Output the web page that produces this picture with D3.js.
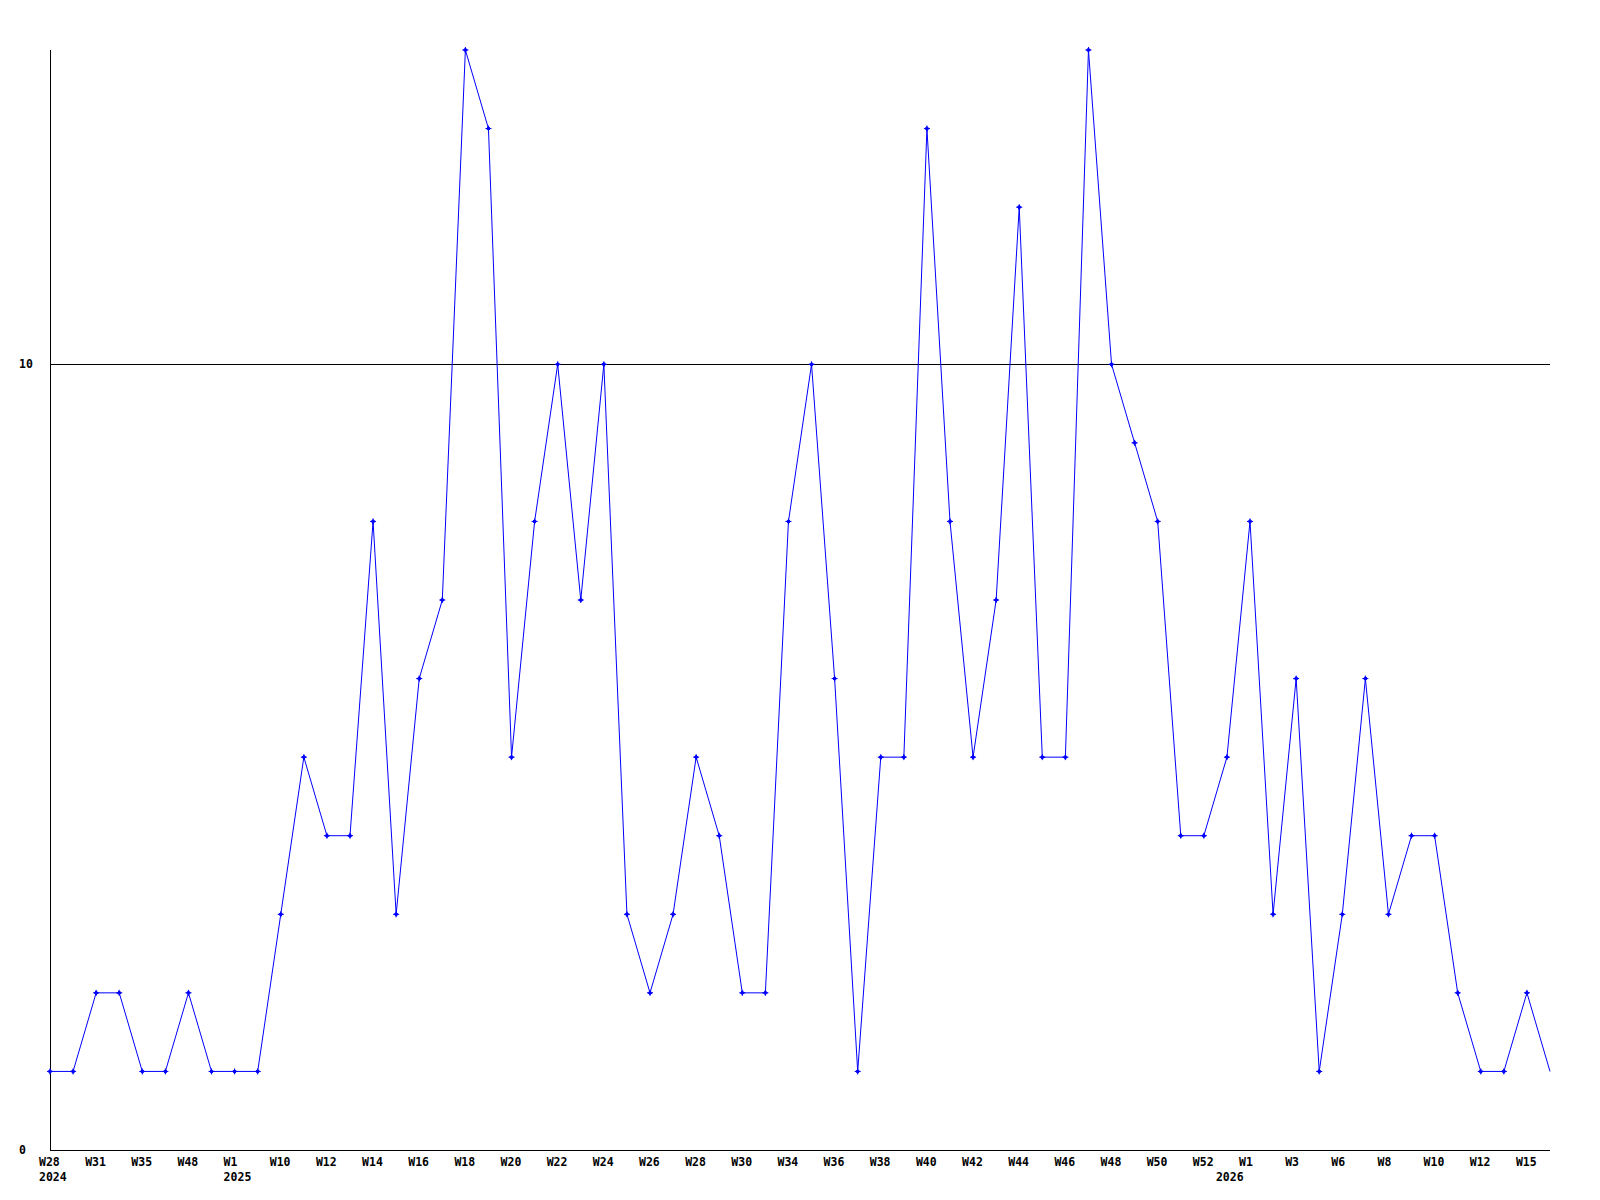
<!DOCTYPE html>
<html>
<head>
<meta charset="utf-8">
<script src="https://cdn.jsdelivr.net/npm/d3@7"></script>
<style>
  body { margin: 0; background: #fff; }
  svg text { font-family: "DejaVu Sans Mono", monospace; font-weight: bold; font-size: 11.5px; }
</style>
</head>
<body>
<svg width="1600" height="1200"></svg>
<script>
// one value per plotted week
const counts = [1, 1, 2, 2, 1, 1, 2, 1, 1, 1, 3, 5, 4, 4, 8, 3, 6, 7, 14, 13,
  5, 8, 10, 7, 10, 3, 2, 3, 5, 4, 2, 2, 8, 10, 6, 1, 5, 5, 13, 8,
  5, 7, 12, 5, 5, 14, 10, 9, 8, 4, 4, 5, 8, 3, 6, 1, 3, 6, 3, 4,
  4, 2, 1, 1, 2, 1];

// labels shown on every second point
const weekLabels = ["W28", "W31", "W35", "W48", "W1", "W10", "W12", "W14", "W16", "W18",
  "W20", "W22", "W24", "W26", "W28", "W30", "W34", "W36", "W38", "W40",
  "W42", "W44", "W46", "W48", "W50", "W52", "W1", "W3", "W6", "W8",
  "W10", "W12", "W15"];

// year labels and the point index they sit under
const years = ["2024", "2025", "2026"];
const yearPoints = [0, 8, 51];

const yTicks = [0, 10];

const svg = d3.select("svg");
const mLeft = 50, mRight = 1550, mTop = 50, mBottom = 1150;

const x = d3.scaleLinear().domain([0, counts.length - 1]).range([mLeft, mRight]);
const y = d3.scaleLinear().domain([0, 14]).range([mBottom, mTop]);

// axes
svg.append("line")
    .attr("x1", mLeft + 0.5).attr("x2", mLeft + 0.5)
    .attr("y1", mTop).attr("y2", mBottom + 0.5)
    .attr("stroke", "#000");
svg.append("line")
    .attr("x1", mLeft).attr("x2", mRight)
    .attr("y1", mBottom + 0.5).attr("y2", mBottom + 0.5)
    .attr("stroke", "#000");

// horizontal grid line at 10
svg.selectAll(".grid")
    .data(yTicks.filter(d => d > 0))
    .join("line")
    .attr("x1", mLeft).attr("x2", mRight)
    .attr("y1", d => Math.round(y(d)) + 0.5)
    .attr("y2", d => Math.round(y(d)) + 0.5)
    .attr("stroke", "#000");

svg.selectAll(".ylab")
    .data(yTicks)
    .join("text")
    .attr("x", 19)
    .attr("y", d => y(d) + 4)
    .text(d => d);

// x labels
svg.selectAll(".xlab")
    .data(weekLabels)
    .join("text")
    .attr("x", (d, i) => x(i * 2) - 11)
    .attr("y", 1166)
    .text(d => d);
svg.selectAll(".year")
    .data(years)
    .join("text")
    .attr("x", (d, i) => x(yearPoints[i]) - 11)
    .attr("y", 1181)
    .text(d => d);

// series
const line = d3.line()
    .x((d, i) => x(i))
    .y(d => y(d));

svg.append("path")
    .datum(counts)
    .attr("d", line)
    .attr("fill", "none")
    .attr("stroke", "#0000ff")
    .attr("stroke-width", 1);

// markers (last point has none)
svg.selectAll(".pt")
    .data(counts.slice(0, -1))
    .join("path")
    .attr("transform", (d, i) => `translate(${x(i)},${y(d)})`)
    .attr("d", "M-2,0L0,-2L2,0L0,2Z M-3,0H3 M0,-3V3")
    .attr("fill", "#0000ff")
    .attr("stroke", "#0000ff")
    .attr("stroke-width", 1);
</script>
</body>
</html>
